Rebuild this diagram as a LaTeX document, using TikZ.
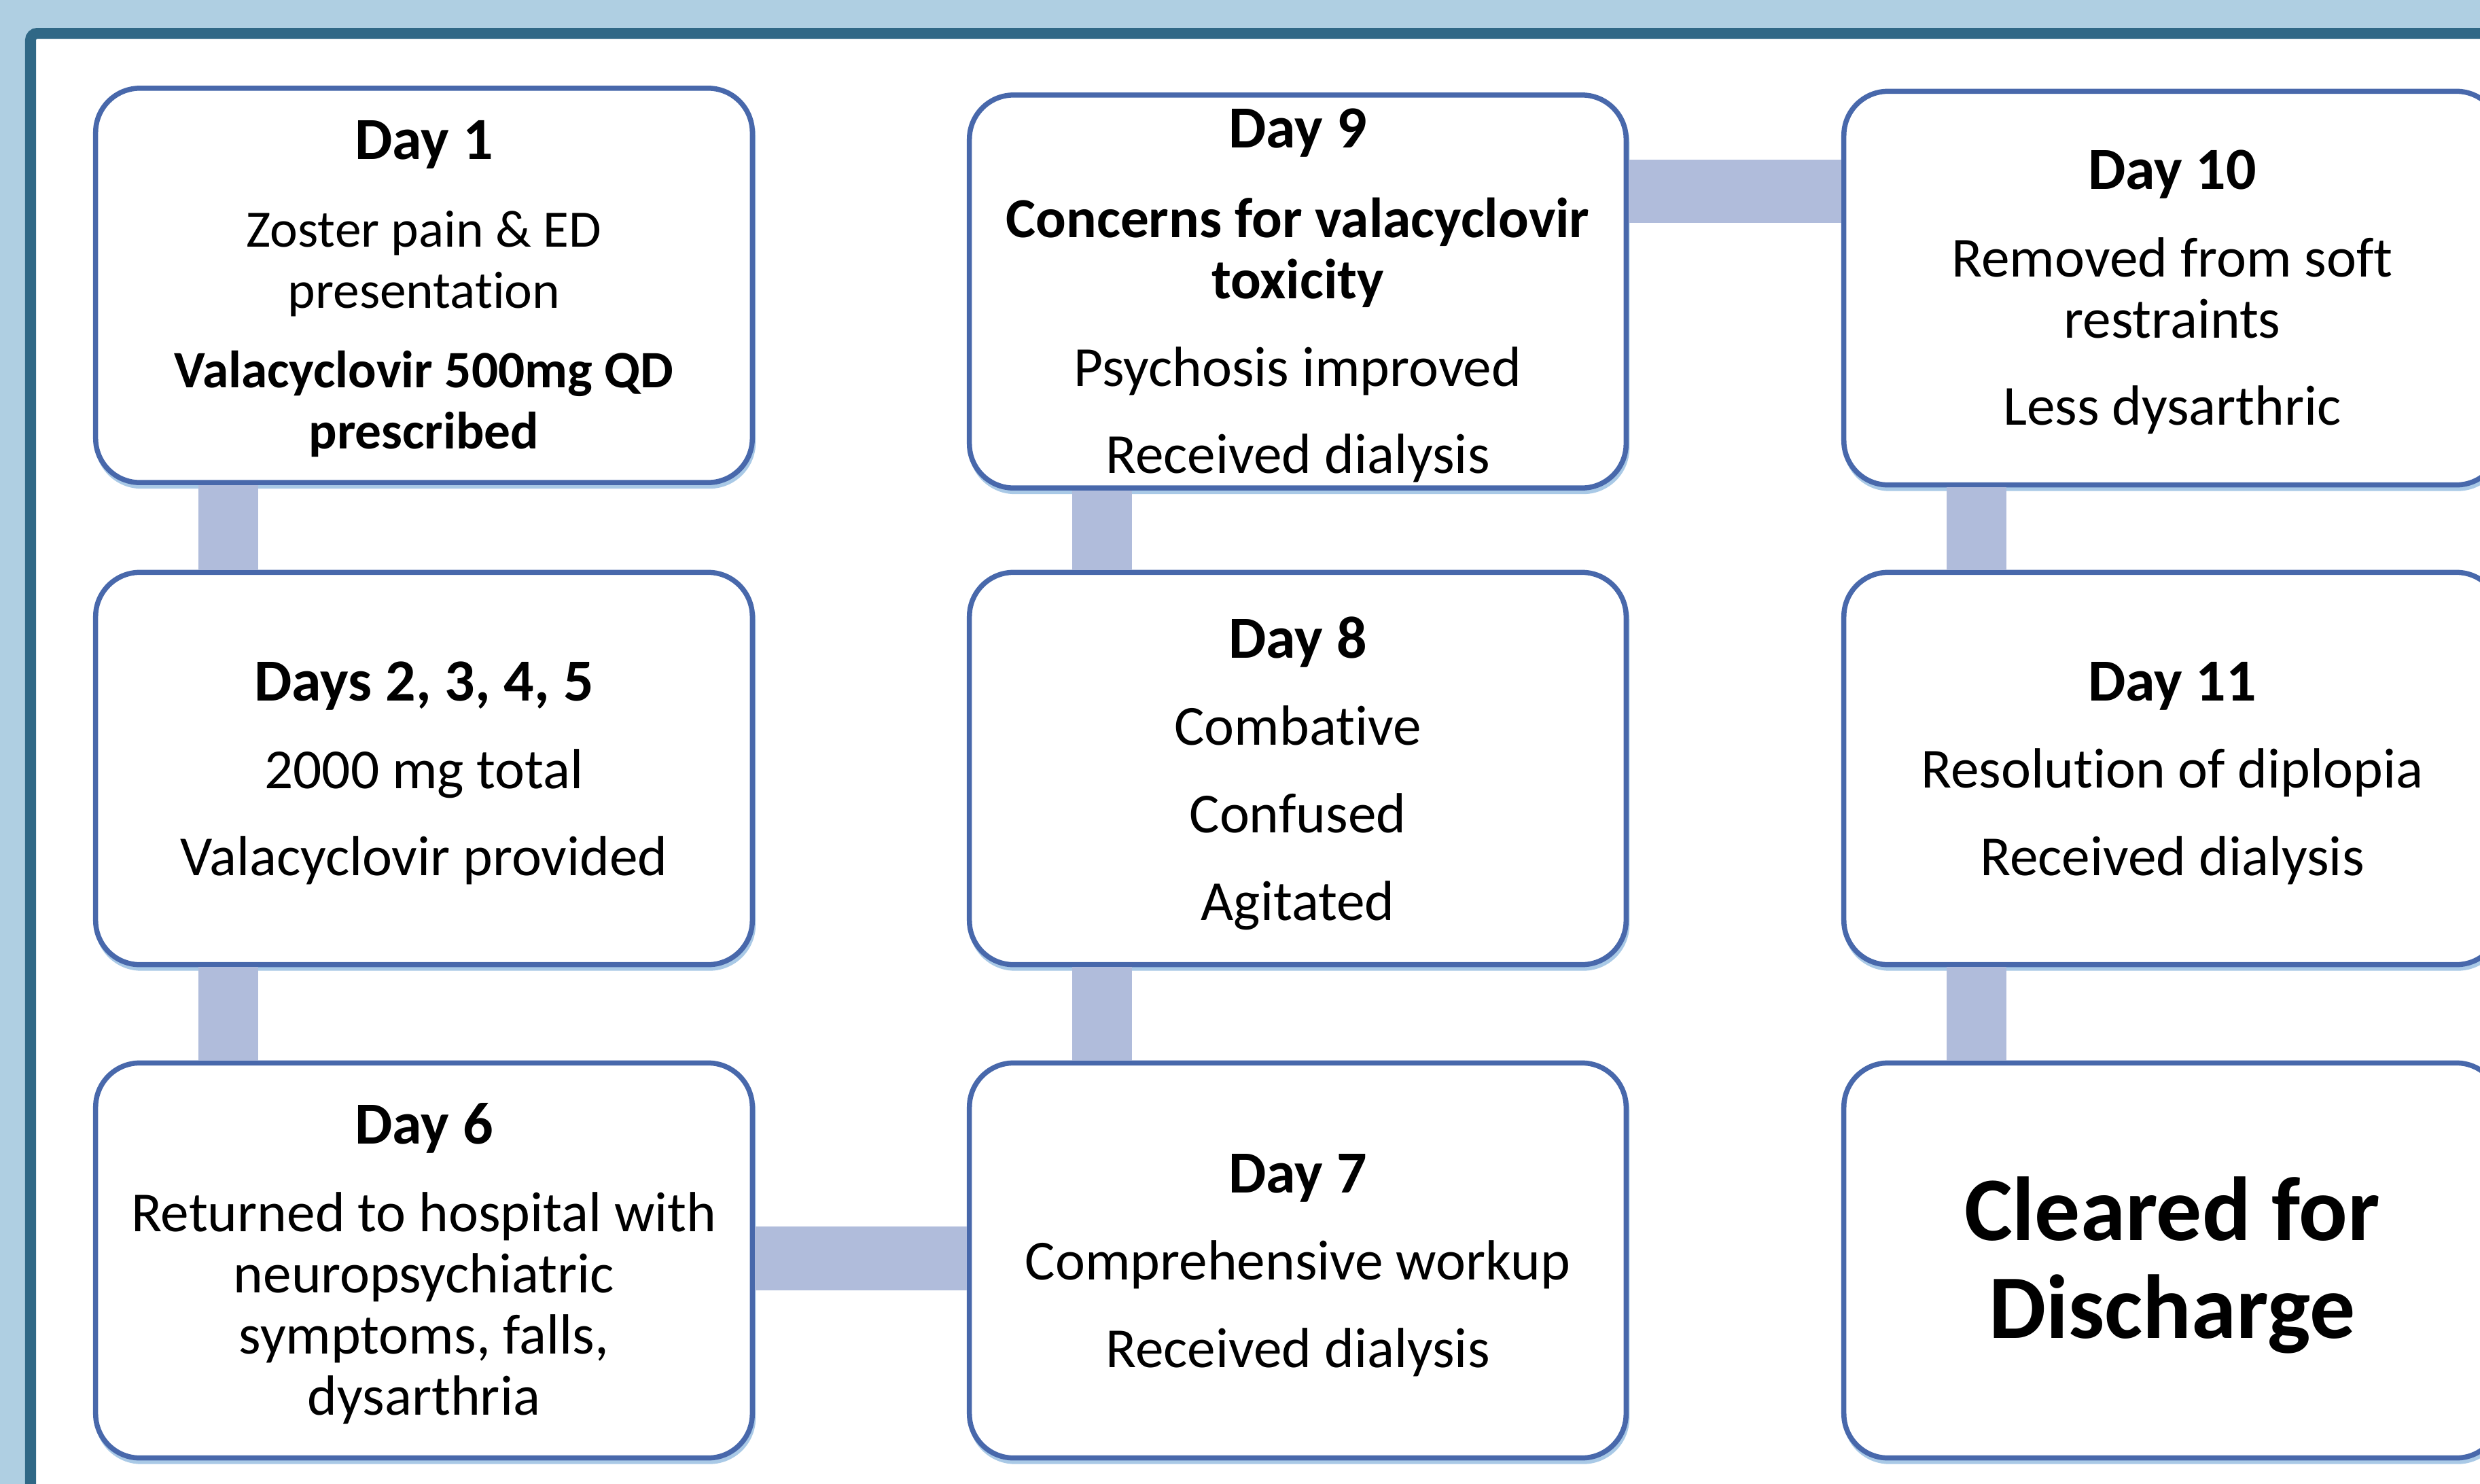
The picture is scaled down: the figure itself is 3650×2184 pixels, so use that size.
\documentclass[tikz,border=0pt]{standalone}
\usepackage{fontspec}
\setmainfont{Carlito}[Ligatures={NoCommon}]
\definecolor{bgblue}{HTML}{AFCFE2}
\definecolor{frameteal}{HTML}{306886}
\definecolor{boxblue}{HTML}{4868AB}
\definecolor{connblue}{HTML}{B0BCDB}
\definecolor{shadowblue}{HTML}{A9C9E6}
\newcommand{\ttl}[1]{{\fontsize{25}{25.6}\selectfont\bfseries #1}}
\tikzset{
  daybox/.style={draw=boxblue, line width=0.075cm, fill=white, rounded corners=0.65cm,
    minimum width=9.66cm, inner sep=0pt,
    preaction={draw=shadowblue, line width=0.06cm, transform canvas={xshift=0.02cm, yshift=-0.06cm}}},
  daytext/.style={align=center, inner sep=0pt, font=\fontsize{23.7}{25.6}\selectfont},
  vconn/.style={draw=connblue, line width=0.88cm},
  hconn/.style={draw=connblue, line width=0.93cm},
}
\begin{document}
\begin{tikzpicture}[x=0.01cm, y=-0.01cm]
\useasboundingbox (0,0) rectangle (3650,2184);
\clip (0,0) rectangle (3650,2184);
\fill[bgblue] (0,0) rectangle (3650,2184);
\draw[frameteal, line width=0.16cm, rounded corners=0.1cm, fill=white] (45,49) rectangle (3760,2300);

% boxes
\node[daybox, minimum height=5.8cm]  (d1)  at (624,420)   {};
\node[daybox, minimum height=5.77cm] (d2)  at (624,1131)  {};
\node[daybox, minimum height=5.81cm] (d6)  at (624,1855)  {};
\node[daybox, minimum height=5.81cm] (d7)  at (1910,1855) {};
\node[daybox, minimum height=5.77cm] (d8)  at (1910,1131) {};
\node[daybox, minimum height=5.78cm] (d9)  at (1910,429)  {};
\node[daybox, minimum height=5.79cm] (d10) at (3197,424)  {};
\node[daybox, minimum height=5.77cm] (d11) at (3197,1131) {};
\node[daybox, minimum height=5.81cm] (dc)  at (3197,1855) {};

% connectors
\draw[vconn] ([xshift=-2.88cm]d1.south) -- ([xshift=-2.88cm]d2.north);
\draw[vconn] ([xshift=-2.88cm]d2.south) -- ([xshift=-2.88cm]d6.north);
\draw[hconn] ([yshift=0.03cm]d6.east) -- ([yshift=0.03cm]d7.west);
\draw[vconn] ([xshift=-2.88cm]d7.north) -- ([xshift=-2.88cm]d8.south);
\draw[vconn] ([xshift=-2.88cm]d8.north) -- ([xshift=-2.88cm]d9.south);
\coordinate (c9) at ([yshift=1.47cm]d9.east);
\draw[hconn] (c9) -- (c9 -| d10.west);
\draw[vconn] ([xshift=-2.88cm]d10.south) -- ([xshift=-2.88cm]d11.north);
\draw[vconn] ([xshift=-2.88cm]d11.south) -- ([xshift=-2.88cm]dc.north);

% texts
\node[daytext, font=\fontsize{22}{25.6}\selectfont] (t1) at ([yshift=-0.05cm]d1.center) {\ttl{Day 1}\\[11pt]
Zoster pain \& ED\\ presentation\\[7.5pt]
\textbf{Valacyclovir 500mg QD}\\ \textbf{prescribed}};
\node[daytext] (t2) at ([yshift=-0.07cm]d2.center) {\ttl{Days 2, 3, 4, 5}\\[11pt]
2000 mg total\\[11pt] Valacyclovir provided};
\node[daytext] (t6) at ([yshift=-0.05cm]d6.center) {\ttl{Day 6}\\[11pt]
Returned to hospital with\\ neuropsychiatric\\ symptoms, falls,\\ dysarthria};
\node[daytext] (t7) at ([yshift=-0.07cm]d7.center) {\ttl{Day 7}\\[11pt]
Comprehensive workup\\[11pt] Received dialysis};
\node[daytext] (t8) at ([yshift=-0.07cm]d8.center) {\ttl{Day 8}\\[11pt]
Combative\\[11pt] Confused\\[11pt] Agitated};
\node[daytext] (t9) at ([yshift=-0.06cm]d9.center) {\ttl{Day 9}\\[12pt]
\textbf{Concerns for valacyclovir}\\ \textbf{toxicity}\\[11pt]
Psychosis improved\\[11pt] Received dialysis};
\node[daytext] (t10) at ([yshift=-0.06cm]d10.center) {\ttl{Day 10}\\[11pt]
Removed from soft\\ restraints\\[11pt] Less dysarthric};
\node[daytext] (t11) at ([yshift=-0.07cm]d11.center) {\ttl{Day 11}\\[11pt]
Resolution of diplopia\\[11pt] Received dialysis};
\node[daytext, font=\fontsize{38}{41}\selectfont\bfseries] (tc) at ([yshift=-0.07cm]dc.center) {Cleared for\\ Discharge};
\end{tikzpicture}
\end{document}
